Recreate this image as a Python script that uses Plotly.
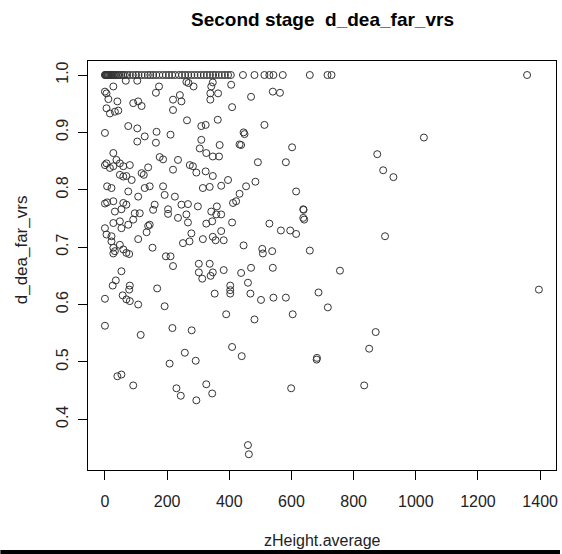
import plotly.graph_objects as go

# ---- data ----
zheight_average = [
    # points at d_dea_far_vrs = 1.0
    0, 1, 3, 5, 7, 9, 11, 14, 17, 20, 24, 28, 32, 36, 41, 46, 52, 58, 64, 72,
    80, 90, 100, 108, 118, 128, 138, 146, 155, 165, 175, 186, 196, 206, 216, 226,
    238, 248, 258, 268, 278, 288, 298, 308, 318, 328, 338, 348, 356, 366, 376, 386,
    396, 405, 444, 481, 513, 529, 542, 572, 659, 716, 729, 1358,
    # remaining points
    67, 104, 262, 269, 347, 0, 5, 27, 174, 164, 285, 342, 339, 364, 406,
    241, 219, 246, 540, 563, 470, 11, 40, 91, 107, 118, 339,
    5, 16, 32, 43, 219, 409, 264, 310, 324, 363, 513,
    0, 75, 104, 166, 128, 104, 164, 211,
    446, 449, 310, 305, 326, 347, 367, 369, 433, 438, 492,
    27, 5, 0, 37, 16, 48, 27, 59, 80, 48, 59, 69, 86,
    176, 187, 235, 139, 118, 125, 219, 273, 283, 294, 324, 347, 396,
    484, 454, 433, 422, 315, 337, 374,
    7, 21, 75, 128, 144, 107, 187, 192, 225, 246, 267, 299,
    0, 7, 27, 59, 32, 53, 69, 96, 112, 160, 155, 203, 203, 342, 360, 374, 358, 412,
    262, 0, 27, 48, 53, 75, 91,
    5, 21, 21, 27, 32, 27, 48, 59, 69, 78,
    107, 134, 139, 144, 153, 196, 211, 219,
    235, 267, 251, 272, 278, 315, 326, 345, 347, 356, 374, 382, 409,
    446, 506, 508, 538, 529, 302, 337, 382, 347, 340, 302, 313,
    438, 470, 540, 53, 35, 25, 80, 78, 57, 69, 80, 107, 0, 168, 192,
    353, 403, 403, 403, 460, 468, 502, 542,
    390, 481, 0, 115, 217, 279, 409, 440, 257, 292, 208, 40, 53,
    681, 91, 230, 244, 294, 326, 345, 599, 834, 460, 463,
    639, 641, 566, 596, 615, 901, 659, 756, 582, 687, 717, 604, 871, 850, 682,
    1026, 602, 582, 876, 895, 928, 615, 638, 638, 1396,
]

d_dea_far_vrs = [
    1.0, 1.0, 1.0, 1.0, 1.0, 1.0, 1.0, 1.0, 1.0, 1.0, 1.0, 1.0, 1.0, 1.0, 1.0, 1.0, 1.0, 1.0, 1.0, 1.0,
    1.0, 1.0, 1.0, 1.0, 1.0, 1.0, 1.0, 1.0, 1.0, 1.0, 1.0, 1.0, 1.0, 1.0, 1.0, 1.0,
    1.0, 1.0, 1.0, 1.0, 1.0, 1.0, 1.0, 1.0, 1.0, 1.0, 1.0, 1.0, 1.0, 1.0, 1.0, 1.0,
    1.0, 1.0, 1.0, 1.0, 1.0, 1.0, 1.0, 1.0, 1.0, 1.0, 1.0, 1.0,
    0.990, 0.990, 0.988, 0.986, 0.987, 0.971, 0.968, 0.980, 0.980, 0.969, 0.980, 0.980, 0.968, 0.968, 0.983,
    0.965, 0.957, 0.954, 0.971, 0.969, 0.962, 0.958, 0.954, 0.951, 0.954, 0.946, 0.957,
    0.942, 0.933, 0.936, 0.938, 0.939, 0.944, 0.921, 0.911, 0.913, 0.922, 0.913,
    0.899, 0.911, 0.907, 0.901, 0.893, 0.884, 0.882, 0.896,
    0.900, 0.897, 0.887, 0.872, 0.864, 0.858, 0.858, 0.878, 0.879, 0.878, 0.848,
    0.864, 0.846, 0.843, 0.852, 0.838, 0.846, 0.841, 0.841, 0.843, 0.826, 0.823, 0.824, 0.817,
    0.857, 0.853, 0.852, 0.839, 0.829, 0.826, 0.835, 0.843, 0.841, 0.830, 0.832, 0.824, 0.817,
    0.814, 0.806, 0.793, 0.780, 0.803, 0.805, 0.807,
    0.806, 0.803, 0.797, 0.803, 0.806, 0.788, 0.806, 0.791, 0.788, 0.774, 0.775, 0.771,
    0.776, 0.778, 0.780, 0.777, 0.762, 0.766, 0.774, 0.759, 0.759, 0.774, 0.765, 0.766, 0.758, 0.762, 0.771, 0.757, 0.757, 0.777,
    0.757, 0.733, 0.742, 0.745, 0.733, 0.739, 0.748,
    0.722, 0.719, 0.710, 0.699, 0.693, 0.689, 0.704, 0.696, 0.690, 0.688,
    0.714, 0.726, 0.737, 0.739, 0.699, 0.684, 0.684, 0.667,
    0.751, 0.743, 0.707, 0.710, 0.724, 0.714, 0.741, 0.745, 0.718, 0.712, 0.728, 0.712, 0.743,
    0.703, 0.697, 0.689, 0.693, 0.741, 0.671, 0.671, 0.660, 0.656, 0.650, 0.656, 0.645,
    0.655, 0.664, 0.664, 0.658, 0.642, 0.633, 0.633, 0.626, 0.616, 0.609, 0.606, 0.600, 0.610, 0.628, 0.597,
    0.619, 0.633, 0.625, 0.619, 0.638, 0.619, 0.608, 0.612,
    0.583, 0.574, 0.563, 0.547, 0.559, 0.555, 0.526, 0.510, 0.516, 0.502, 0.497, 0.475, 0.478,
    0.504, 0.459, 0.454, 0.441, 0.433, 0.461, 0.445, 0.454, 0.459, 0.355, 0.339,
    0.765, 0.748, 0.729, 0.729, 0.723, 0.719, 0.694, 0.659, 0.612, 0.621, 0.595, 0.583, 0.552, 0.523, 0.507,
    0.891, 0.874, 0.848, 0.862, 0.834, 0.822, 0.797, 0.766, 0.751, 0.626,
]

x_ticks = [0, 200, 400, 600, 800, 1000, 1200, 1400]
y_ticks = [0.4, 0.5, 0.6, 0.7, 0.8, 0.9, 1.0]
y_tick_text = ["0.4", "0.5", "0.6", "0.7", "0.8", "0.9", "1.0"]

title_text = "Second stage  d_dea_far_vrs"
x_title = "zHeight.average"
y_title = "d_dea_far_vrs"

FONT = "Liberation Sans, Arial, sans-serif"

fig = go.Figure()
fig.add_trace(go.Scatter(
    x=zheight_average, y=d_dea_far_vrs, mode="markers",
    marker=dict(symbol="circle-open", size=7, color="#333333",
                line=dict(width=1, color="#333333")),
    showlegend=False, hoverinfo="x+y",
))

axis_common = dict(
    showline=True, linecolor="black", linewidth=1, mirror=True,
    ticks="outside", ticklen=9, tickcolor="black", tickwidth=1,
    showgrid=False, zeroline=False,
    tickfont=dict(family=FONT, size=16, color="#222222"),
)

fig.update_layout(
    width=562, height=554,
    margin=dict(l=88, r=4, t=61, b=84),
    paper_bgcolor="white", plot_bgcolor="white",
    font=dict(family=FONT, color="#111111"),
    xaxis=dict(range=[-54.5, 1451], tickvals=x_ticks, ticklabelstandoff=8, **axis_common),
    yaxis=dict(range=[0.3116, 1.0244], tickvals=y_ticks, ticktext=y_tick_text,
               tickangle=-90, ticklabelstandoff=4, **axis_common),
    annotations=[
        dict(text="<b>" + title_text + "</b>", xref="paper", yref="paper",
             x=0.5, y=1 + (61 - 19) / 409, xanchor="center", yanchor="middle",
             showarrow=False, font=dict(family=FONT, size=19, color="black")),
        dict(text=x_title, xref="paper", yref="paper",
             x=0.5, y=-(540 - 470) / 409, xanchor="center", yanchor="middle",
             showarrow=False, font=dict(family=FONT, size=16, color="#222222")),
        dict(text=y_title, xref="paper", yref="paper",
             x=-(88 - 22) / 470, y=(470 - 250) / 409, xanchor="center", yanchor="middle",
             textangle=-90, showarrow=False,
             font=dict(family=FONT, size=17, color="#222222")),
    ],
    shapes=[
        dict(type="rect", xref="paper", yref="paper",
             x0=-88 / 470, x1=(562 - 88) / 470,
             y0=-(554 - 470) / 409, y1=-(550 - 470) / 409,
             fillcolor="black", line=dict(width=0)),
    ],
)

fig.write_html("out.html", config={"displayModeBar": False},
               post_script="document.body.style.margin='0';document.body.style.overflow='hidden';")
